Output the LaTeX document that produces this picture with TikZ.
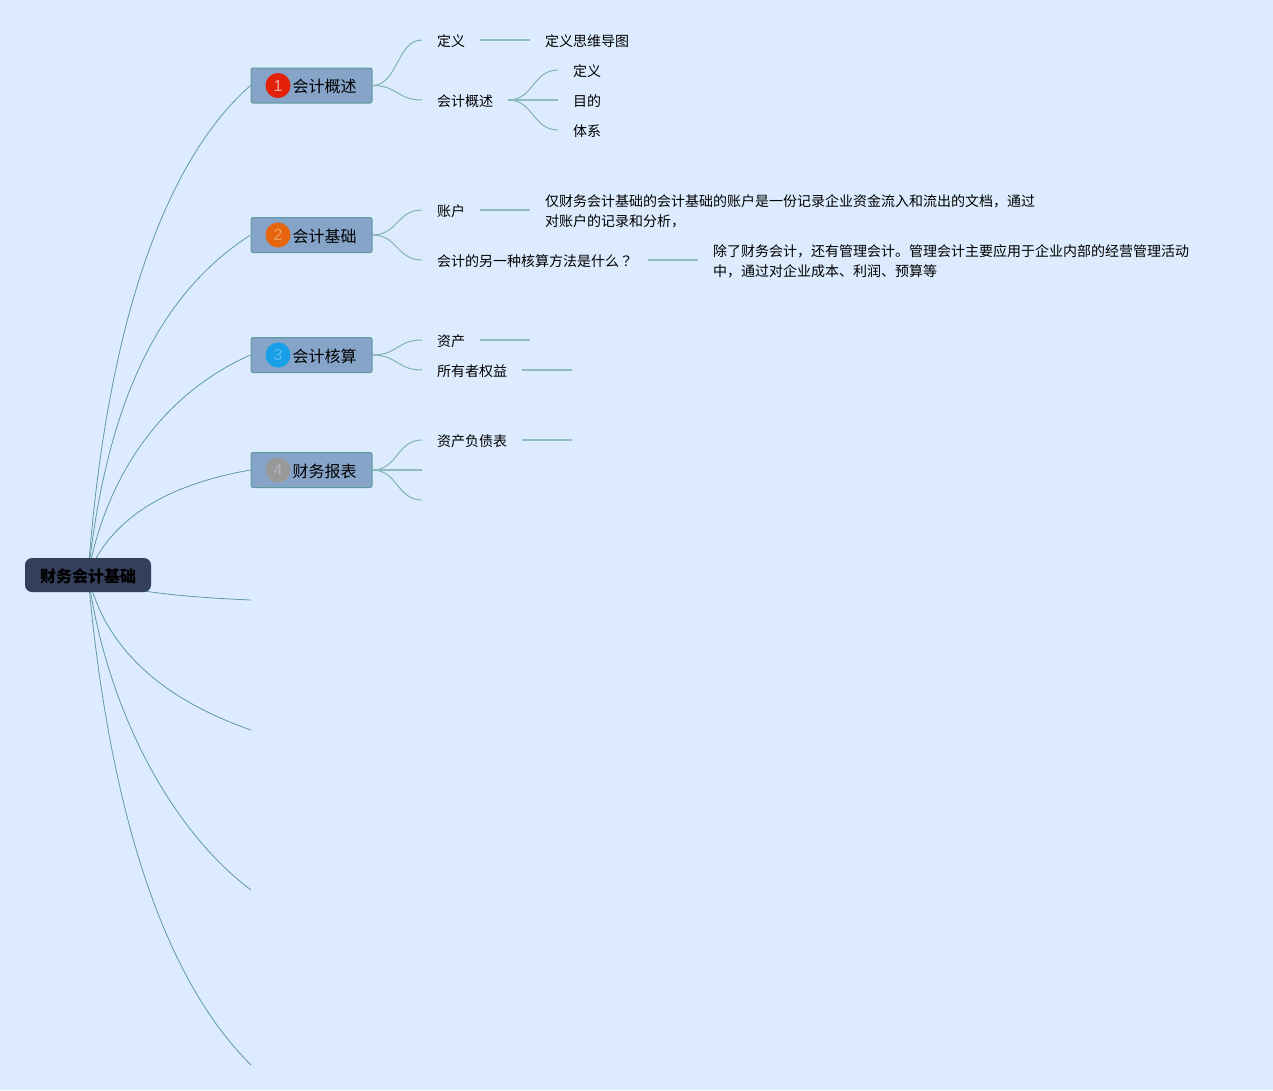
\documentclass[tikz,border=0pt]{standalone}
\usepackage{fontspec}
\setmainfont{Noto Sans CJK SC}
\newfontfamily\digitfont{Liberation Sans}
\newfontfamily\tcfont{Noto Sans CJK TC}
\pgfdeclarelayer{paper}
\pgfdeclarelayer{conn}
\pgfsetlayers{paper,conn,main}
\definecolor{pagebg}{HTML}{DCECFE}
\definecolor{rootfill}{HTML}{333F5B}
\definecolor{branchfill}{HTML}{86A3C8}
\definecolor{branchline}{HTML}{5F9A9E}
\definecolor{curvecol}{HTML}{5F9A9E}
\definecolor{stubcol}{HTML}{8FBCC0}
\tikzset{
  rootbox/.style={fill=rootfill,rounded corners=7pt,minimum width=126pt,minimum height=34pt,inner sep=0pt,font=\fontsize{16pt}{20pt}\selectfont\bfseries,text=black},
  branchbox/.style={fill=branchfill,draw=branchline,line width=1pt,rounded corners=2pt,minimum width=121pt,minimum height=35pt,inner sep=0pt,font=\fontsize{16pt}{20pt}\selectfont,text=black},
  badge/.style={circle,minimum size=25pt,inner sep=0pt,font=\digitfont\fontsize{16pt}{16pt}\selectfont},
  leaf/.style={anchor=west,inner xsep=15pt,inner ysep=0pt,align=left,font=\fontsize{14pt}{20pt}\selectfont,text=black},
  rootcurve/.style={draw=curvecol,line width=0.8pt},
  subcurve/.style={draw=stubcol!70!curvecol,line width=1pt},
  stub/.style={draw=stubcol,line width=1.3pt}
}
\newcommand{\lowr}[1]{\raisebox{-1pt}[\height][\depth]{#1}}
\newcommand{\shifted}[1]{\hspace*{26pt}\lowr{#1}}
\begin{document}
\begin{tikzpicture}[x=1pt,y=-1pt]
\useasboundingbox (0,0) rectangle (1273,1090);
\begin{pgfonlayer}{paper}
\fill[pagebg] (0,0) rectangle (1273,1090);
\end{pgfonlayer}

\node[rootbox] (root) at (88,575) {\lowr{财务会计基础}};

\node[branchbox] (b1) at (311.5,85.5) {\shifted{会计概述}};
\node[branchbox] (b2) at (311.5,235) {\shifted{会计基础}};
\node[branchbox] (b3) at (311.5,355) {\shifted{会计核算}};
\node[branchbox] (b4) at (311.5,470) {\shifted{财务报表}};

\node[badge,fill={rgb,255:red,227;green,33;blue,11},text={rgb,255:red,245;green,170;blue,160}] (i1) at (278,85.5) {1};
\node[badge,fill={rgb,255:red,232;green,101;blue,15},text={rgb,255:red,235;green,160;blue,100}] (i2) at (278,235) {2};
\node[badge,fill={rgb,255:red,23;green,159;blue,232},text={rgb,255:red,90;green,185;blue,240}] (i3) at (278,355) {3};
\node[badge,fill={rgb,255:red,153;green,153;blue,153},text={rgb,255:red,175;green,180;blue,190}] (i4) at (278,470) {4};

\coordinate (e5) at (251,600);
\coordinate (e6) at (251,730);
\coordinate (e7) at (251,890);
\coordinate (e8) at (251,1065);

% level 2, group 1
\node[leaf] (a1) at (422,40) {\lowr{定义}};
\node[leaf] (a11) at (530,40) {\lowr{定义思维导图}};
\node[leaf] (a2) at (422,100) {\lowr{会计概述}};
\node[leaf] (a21) at (558,70) {\lowr{定义}};
\node[leaf] (a22) at (558,100) {\lowr{目的}};
\node[leaf] (a23) at (558,130) {\lowr{体系}};
% group 2
\node[leaf] (c1) at (422,210) {\lowr{账户}};
\node[leaf] (c11) at (530,210) {\lowr{仅财务会计基础的会计基础的账户是一份记录企业资金流入和流出的文档，通过}\\\lowr{对账户的记录和分析，}};
\node[leaf] (c2) at (422,260) {\lowr{会计的另一种核算方法是什么{\tcfont ？}}};
\node[leaf] (c21) at (698,260) {\lowr{除了财务会计，还有管理会计。管理会计主要应用于企业内部的经营管理活动}\\\lowr{中，通过对企业成本、利润、预算等}};
% group 3
\node[leaf] (d1) at (422,340) {\lowr{资产}};
\coordinate (d11) at (530,340);
\node[leaf] (d2) at (422,370) {\lowr{所有者权益}};
\coordinate (d21) at (572,370);
% group 4
\node[leaf] (f1) at (422,440) {\lowr{资产负债表}};
\coordinate (f11) at (572,440);
\coordinate (f2) at (422,470);
\coordinate (f3) at (422,500);

\begin{pgfonlayer}{conn}
\draw[rootcurve] (root.center) .. controls +(17,-235) and +(-91,80) .. (b1.west);
\draw[rootcurve] (root.center) .. controls +(17,-155) and +(-101,65) .. (b2.west);
\draw[rootcurve] (root.center) .. controls +(17,-95) and +(-91,40) .. (b3.west);
\draw[rootcurve] (root.center) .. controls +(22,-55) and +(-86,15) .. (b4.west);
\draw[rootcurve] (root.center) .. controls +(22,15) and +(-71,-3) .. (e5);
\draw[rootcurve] (root.center) .. controls +(17,75) and +(-86,-30) .. (e6);
\draw[rootcurve] (root.center) .. controls +(17,125) and +(-86,-65) .. (e7);
\draw[rootcurve] (root.center) .. controls +(17,195) and +(-101,-100) .. (e8);

\foreach \p/\c in {b1/a1,b1/a2,b2/c1,b2/c2,b3/d1,b3/d2,b4/f1}{
  \draw[subcurve] (\p.east) .. controls +(25,0) and +(-25,0) .. (\c.west);
}
\draw[stub] (b4.east) -- (f2);
\draw[subcurve] (b4.east) .. controls +(25,0) and +(-25,0) .. (f3);
\draw[subcurve] (a2.east) .. controls +(25,0) and +(-25,0) .. (a21.west);
\draw[stub] (a2.east) -- (a22.west);
\draw[subcurve] (a2.east) .. controls +(25,0) and +(-25,0) .. (a23.west);
\draw[stub] (a1.east) -- (a11.west);
\draw[stub] (c1.east) -- (c11.west);
\draw[stub] (c2.east) -- (c21.west);
\draw[stub] (d1.east) -- (d11);
\draw[stub] (d2.east) -- (d21);
\draw[stub] (f1.east) -- (f11);
\end{pgfonlayer}
\end{tikzpicture}
\end{document}
